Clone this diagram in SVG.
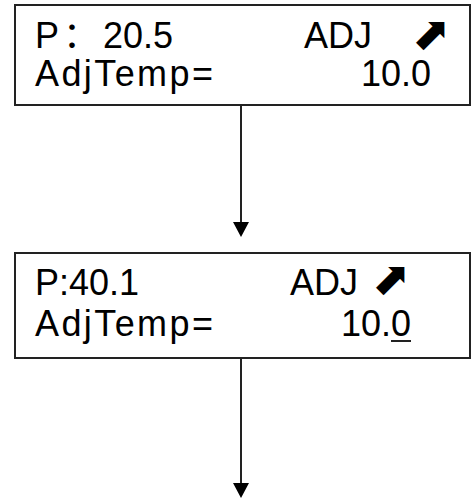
<svg xmlns="http://www.w3.org/2000/svg" width="476" height="499" viewBox="0 0 476 499">
<style>
.box{fill:#fff;stroke:#222;stroke-width:2}
.t{font-family:"Liberation Sans",Arial,sans-serif;font-size:36px;fill:#000}
.cj{font-family:"Noto Sans CJK SC",sans-serif}
.ic{font-family:"DejaVu Sans",sans-serif;font-size:46px;fill:#000}
.ln{stroke:#222;stroke-width:2;fill:none}
</style>
<g id="screen1">
<rect class="box" x="15" y="5" width="455" height="100"/>
<text class="t" x="35" y="48">P<tspan class="cj" x="63">：</tspan><tspan x="103">20.5</tspan></text>
<text class="t" x="304" y="48">ADJ</text>
<text class="ic" x="412" y="49">⬈</text>
<text class="t" x="35" y="86" textLength="178" lengthAdjust="spacing">AdjTemp=</text>
<text class="t" x="431" y="86" text-anchor="end">10.0</text>
</g>
<g id="screen2">
<rect class="box" x="15" y="253" width="455" height="105"/>
<text class="t" x="35" y="295">P:40.1</text>
<text class="t" x="290" y="295">ADJ</text>
<text class="ic" x="372" y="294">⬈</text>
<text class="t" x="35" y="336" textLength="178" lengthAdjust="spacing">AdjTemp=</text>
<text class="t" x="411" y="336" text-anchor="end">10.0</text>
<line class="ln" x1="391" y1="341" x2="411" y2="341"/>
</g>
<g id="connectors">
<line class="ln" x1="241" y1="105" x2="241" y2="224"/>
<path d="M233,222 L249,222 L241,237 Z" fill="#000"/>
<line class="ln" x1="241" y1="358" x2="241" y2="485"/>
<path d="M233,483 L249,483 L241,498 Z" fill="#000"/>
</g>
</svg>
